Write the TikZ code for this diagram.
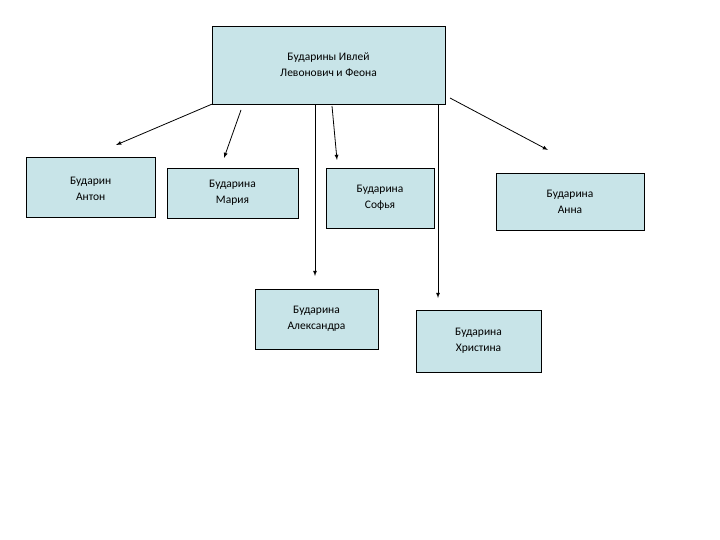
\documentclass[tikz,border=0pt]{standalone}
\usepackage{fontspec}
\setmainfont{Carlito}
\begin{document}
\begin{tikzpicture}[x=1pt,y=-1pt,
 box/.style={draw=black,fill={rgb,255:red,200;green,228;blue,232},align=center,font=\fontsize{11.5}{16}\selectfont,inner sep=0pt},
 arr/.style={-latex,thick}]
\useasboundingbox (0,0) rectangle (720,540);
\node[box,minimum width=233,minimum height=78] (top) at (328.5,65) {Бударины Ивлей\\Левонович и Феона};
\node[box,minimum width=129,minimum height=60,anchor=north west,text depth=0pt] (a) at (26,157) {\raisebox{8pt}{\begin{tabular}{@{}c@{}}Бударин\\Антон\end{tabular}}};
\node[box,minimum width=131,minimum height=50] (m) at (232.5,193) {Бударина\\Мария};
\node[box,minimum width=108,minimum height=60] (s) at (380,198) {Бударина\\Софья};
\node[box,minimum width=148,minimum height=57] (an) at (570,201.5) {Бударина\\Анна};
\node[box,minimum width=123,minimum height=60] (al) at (316.5,319) {Бударина\\Александра};
\node[box,minimum width=125,minimum height=62] (h) at (478.5,341) {Бударина\\Христина};
\coordinate (e1) at (116,145);
\coordinate (s2) at (241,110); \coordinate (e2) at (224,158);
\coordinate (s3) at (332,106); \coordinate (e3) at (337,160);
\coordinate (e4) at (315,276);
\coordinate (e5) at (438,298);
\coordinate (s6) at (450,98); \coordinate (e6) at (548,150);
\draw[arr] (top.south west) -- (e1);
\draw[arr] (s2) -- (e2);
\draw[arr] (s3) -- (e3);
\draw[arr] (top.south -| e4) -- (e4);
\draw[arr] (top.south -| e5) -- (e5);
\draw[arr] (s6) -- (e6);
\end{tikzpicture}
\end{document}
